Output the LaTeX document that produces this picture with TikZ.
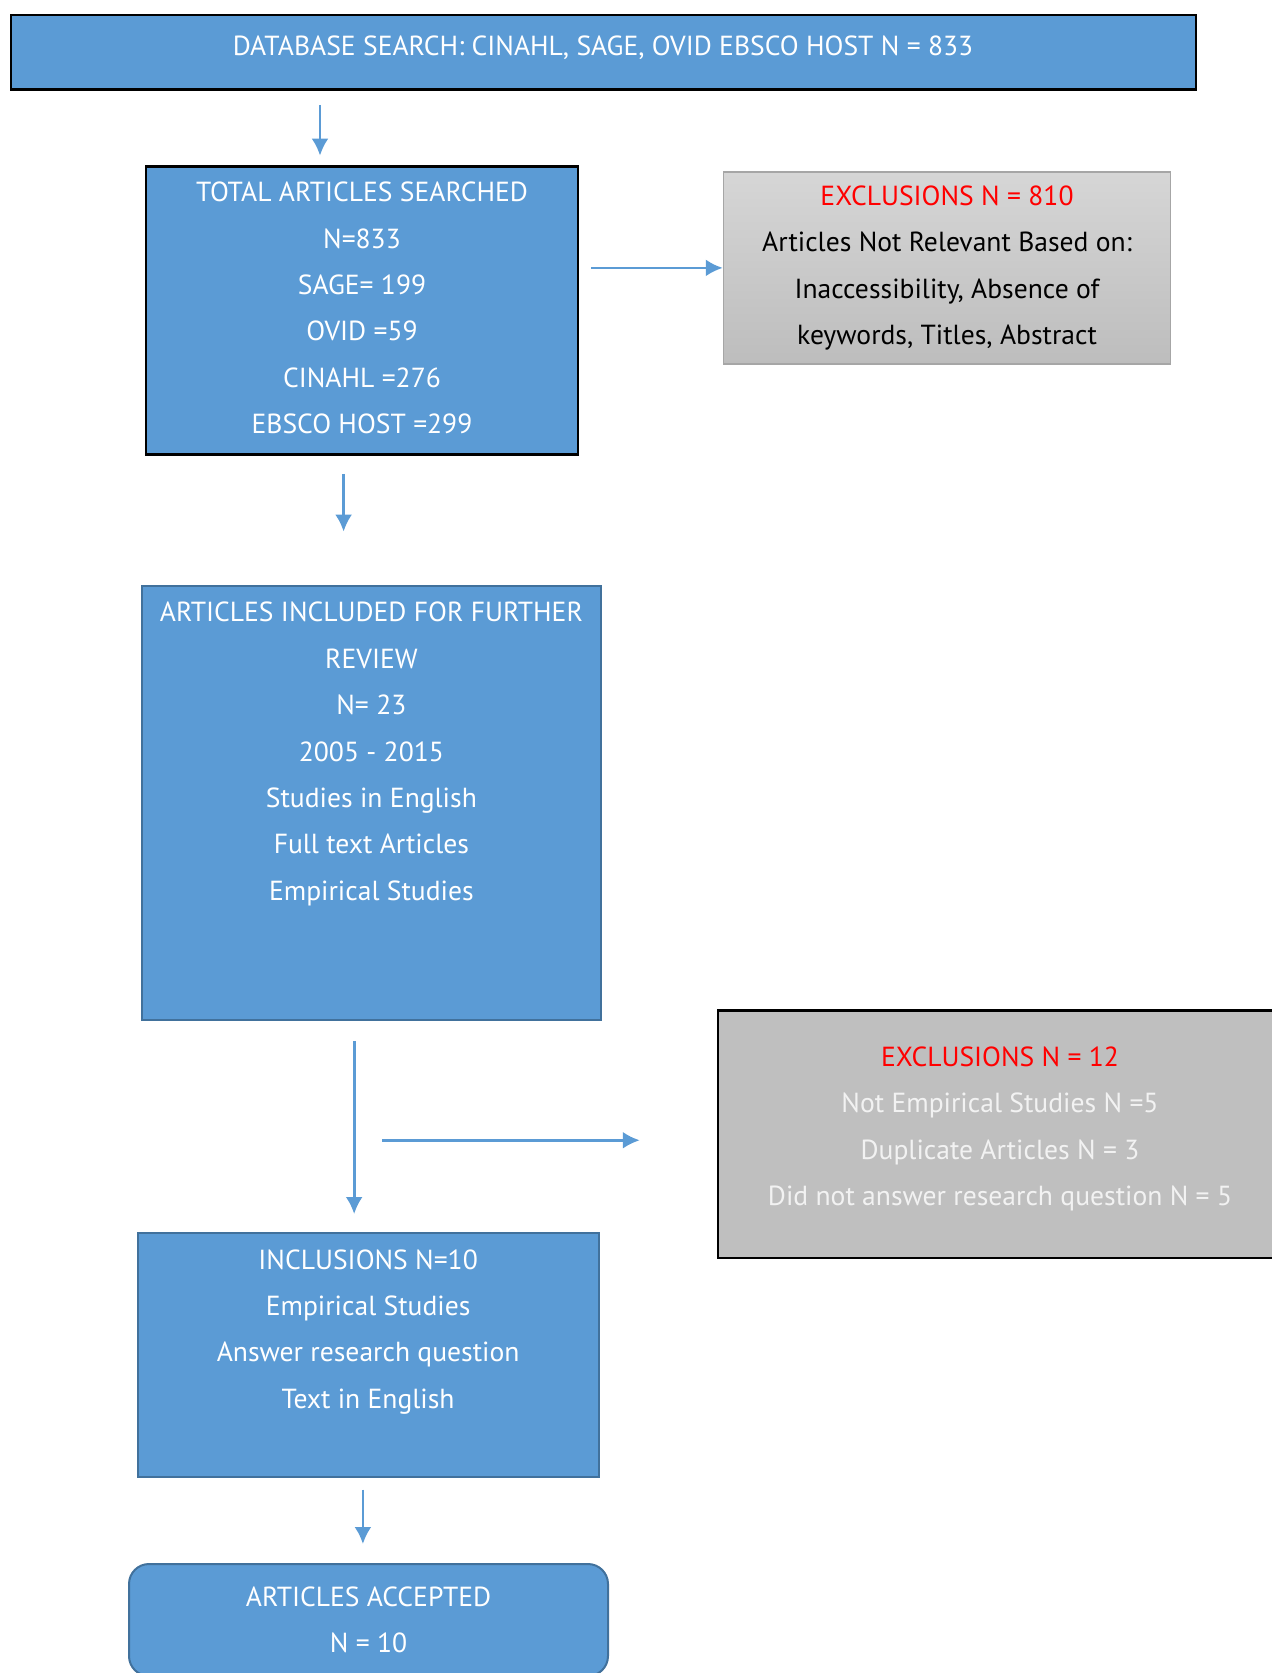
\documentclass[tikz,border=0pt]{standalone}
\usepackage{fontspec}
\setmainfont{PT Sans}
\usetikzlibrary{calc}
\usetikzlibrary{positioning}
\usetikzlibrary{arrows.meta}
\definecolor{boxBlue}{HTML}{5B9BD5}
\definecolor{edgeBlue}{HTML}{41719C}
\definecolor{greyTop}{HTML}{D6D6D6}
\definecolor{greyBottom}{HTML}{BDBDBD}
\definecolor{greyEdge}{HTML}{A6A6A6}
\definecolor{greyFill}{HTML}{BFBFBF}
\definecolor{lightText}{HTML}{F2F2F2}
\definecolor{headRed}{HTML}{FF0000}
\tikzset{
    blueBox/.style={rectangle, draw=edgeBlue, line width=1pt, fill=boxBlue},
    boxText/.style={inner sep=0pt, align=center, text=white, font=\fontsize{13.8}{23.2}\selectfont},
    flow/.style={-{Latex[length=8.5pt, width=8.5pt]}, draw=boxBlue, line width=1.35pt},
}

\begin{document}
\begin{tikzpicture}[x=0.5pt, y=-0.5pt]
    \clip (0,0) rectangle (1272,1673);

    \node (search) [blueBox, draw=black, line width=1.25pt, minimum width=592.5pt, minimum height=37.3pt] at (603.4,52.3) {};
    \node (search_text) [boxText] at (603,48) {DATABASE SEARCH: CINAHL, SAGE, OVID EBSCO HOST N = 833};

    \node (total) [blueBox, draw=black, line width=1.4pt, minimum width=216pt, minimum height=144pt] at (362,310.5) {};
    \node (total_text) [boxText] at (362,308)
        {TOTAL ARTICLES SEARCHED\\N=833\\SAGE= 199\\OVID =59\\CINAHL =276\\EBSCO HOST =299};

    \node (excl1) [rectangle, boxText, text=black, top color=greyTop, bottom color=greyBottom, draw=greyEdge, line width=0.75pt, minimum width=223.5pt, minimum height=96pt] at (947,267.9)
        {\textcolor{headRed}{EXCLUSIONS N = 810}\\Articles Not Relevant Based on:\\Inaccessibility, Absence of\\keywords, Titles, Abstract};

    \node (review) [blueBox, minimum width=229.5pt, minimum height=217pt] at (371.4,803) {};
    \node (review_text) [boxText, below=8.4pt of review.north]
        {ARTICLES INCLUDED FOR FURTHER\\REVIEW\\N= 23\\2005 - 2015\\Studies in English\\Full text Articles\\Empirical Studies};

    \node (excl2) [rectangle, fill=greyFill, draw=black, line width=1.25pt, minimum width=282pt, minimum height=123.75pt] at (1000,1134.25) {};
    \node (excl2_text) [boxText, text=lightText, below=18.5pt of excl2.north]
        {\textcolor{headRed}{EXCLUSIONS N = 12}\\Not Empirical Studies N =5\\Duplicate Articles N = 3\\Did not answer research question N = 5};

    \node (incl) [blueBox, minimum width=230.5pt, minimum height=122.25pt] at (368.15,1354.75) {};
    \node (incl_text) [boxText, below=8.75pt of incl.north]
        {INCLUSIONS N=10\\Empirical Studies\\Answer research question\\Text in English};

    \node (accepted) [blueBox, boxText, rounded corners=10pt, minimum width=239.5pt, minimum height=56pt] at (368.5,1620)
        {ARTICLES ACCEPTED\\N = 10};

    % arrows float between the boxes
    \draw [flow, shorten <=7pt, shorten >=4.75pt] ([xshift=-21pt]total.north |- search.south) -- ([xshift=-21pt]total.north);
    \draw [flow, shorten <=6pt] (total.east |- excl1.west) -- (excl1.west);
    \draw [flow, shorten <=9pt, shorten >=26.7pt] ([xshift=-13.9pt]review.north |- total.south) -- ([xshift=-13.9pt]review.north);
    \draw [flow, shorten <=10pt, shorten >=8.75pt] ([xshift=-7pt]incl.north |- review.south) -- ([xshift=-7pt]incl.north);
    \draw [flow, shorten <=5.3pt, shorten >=38.5pt] ([yshift=-3pt]excl2.west -| review.south) -- ([yshift=-3pt]excl2.west);
    \draw [flow, shorten <=5.8pt, shorten >=9.5pt] ([xshift=-2.8pt]accepted.north |- incl.south) -- ([xshift=-2.8pt]accepted.north);
\end{tikzpicture}
\end{document}
